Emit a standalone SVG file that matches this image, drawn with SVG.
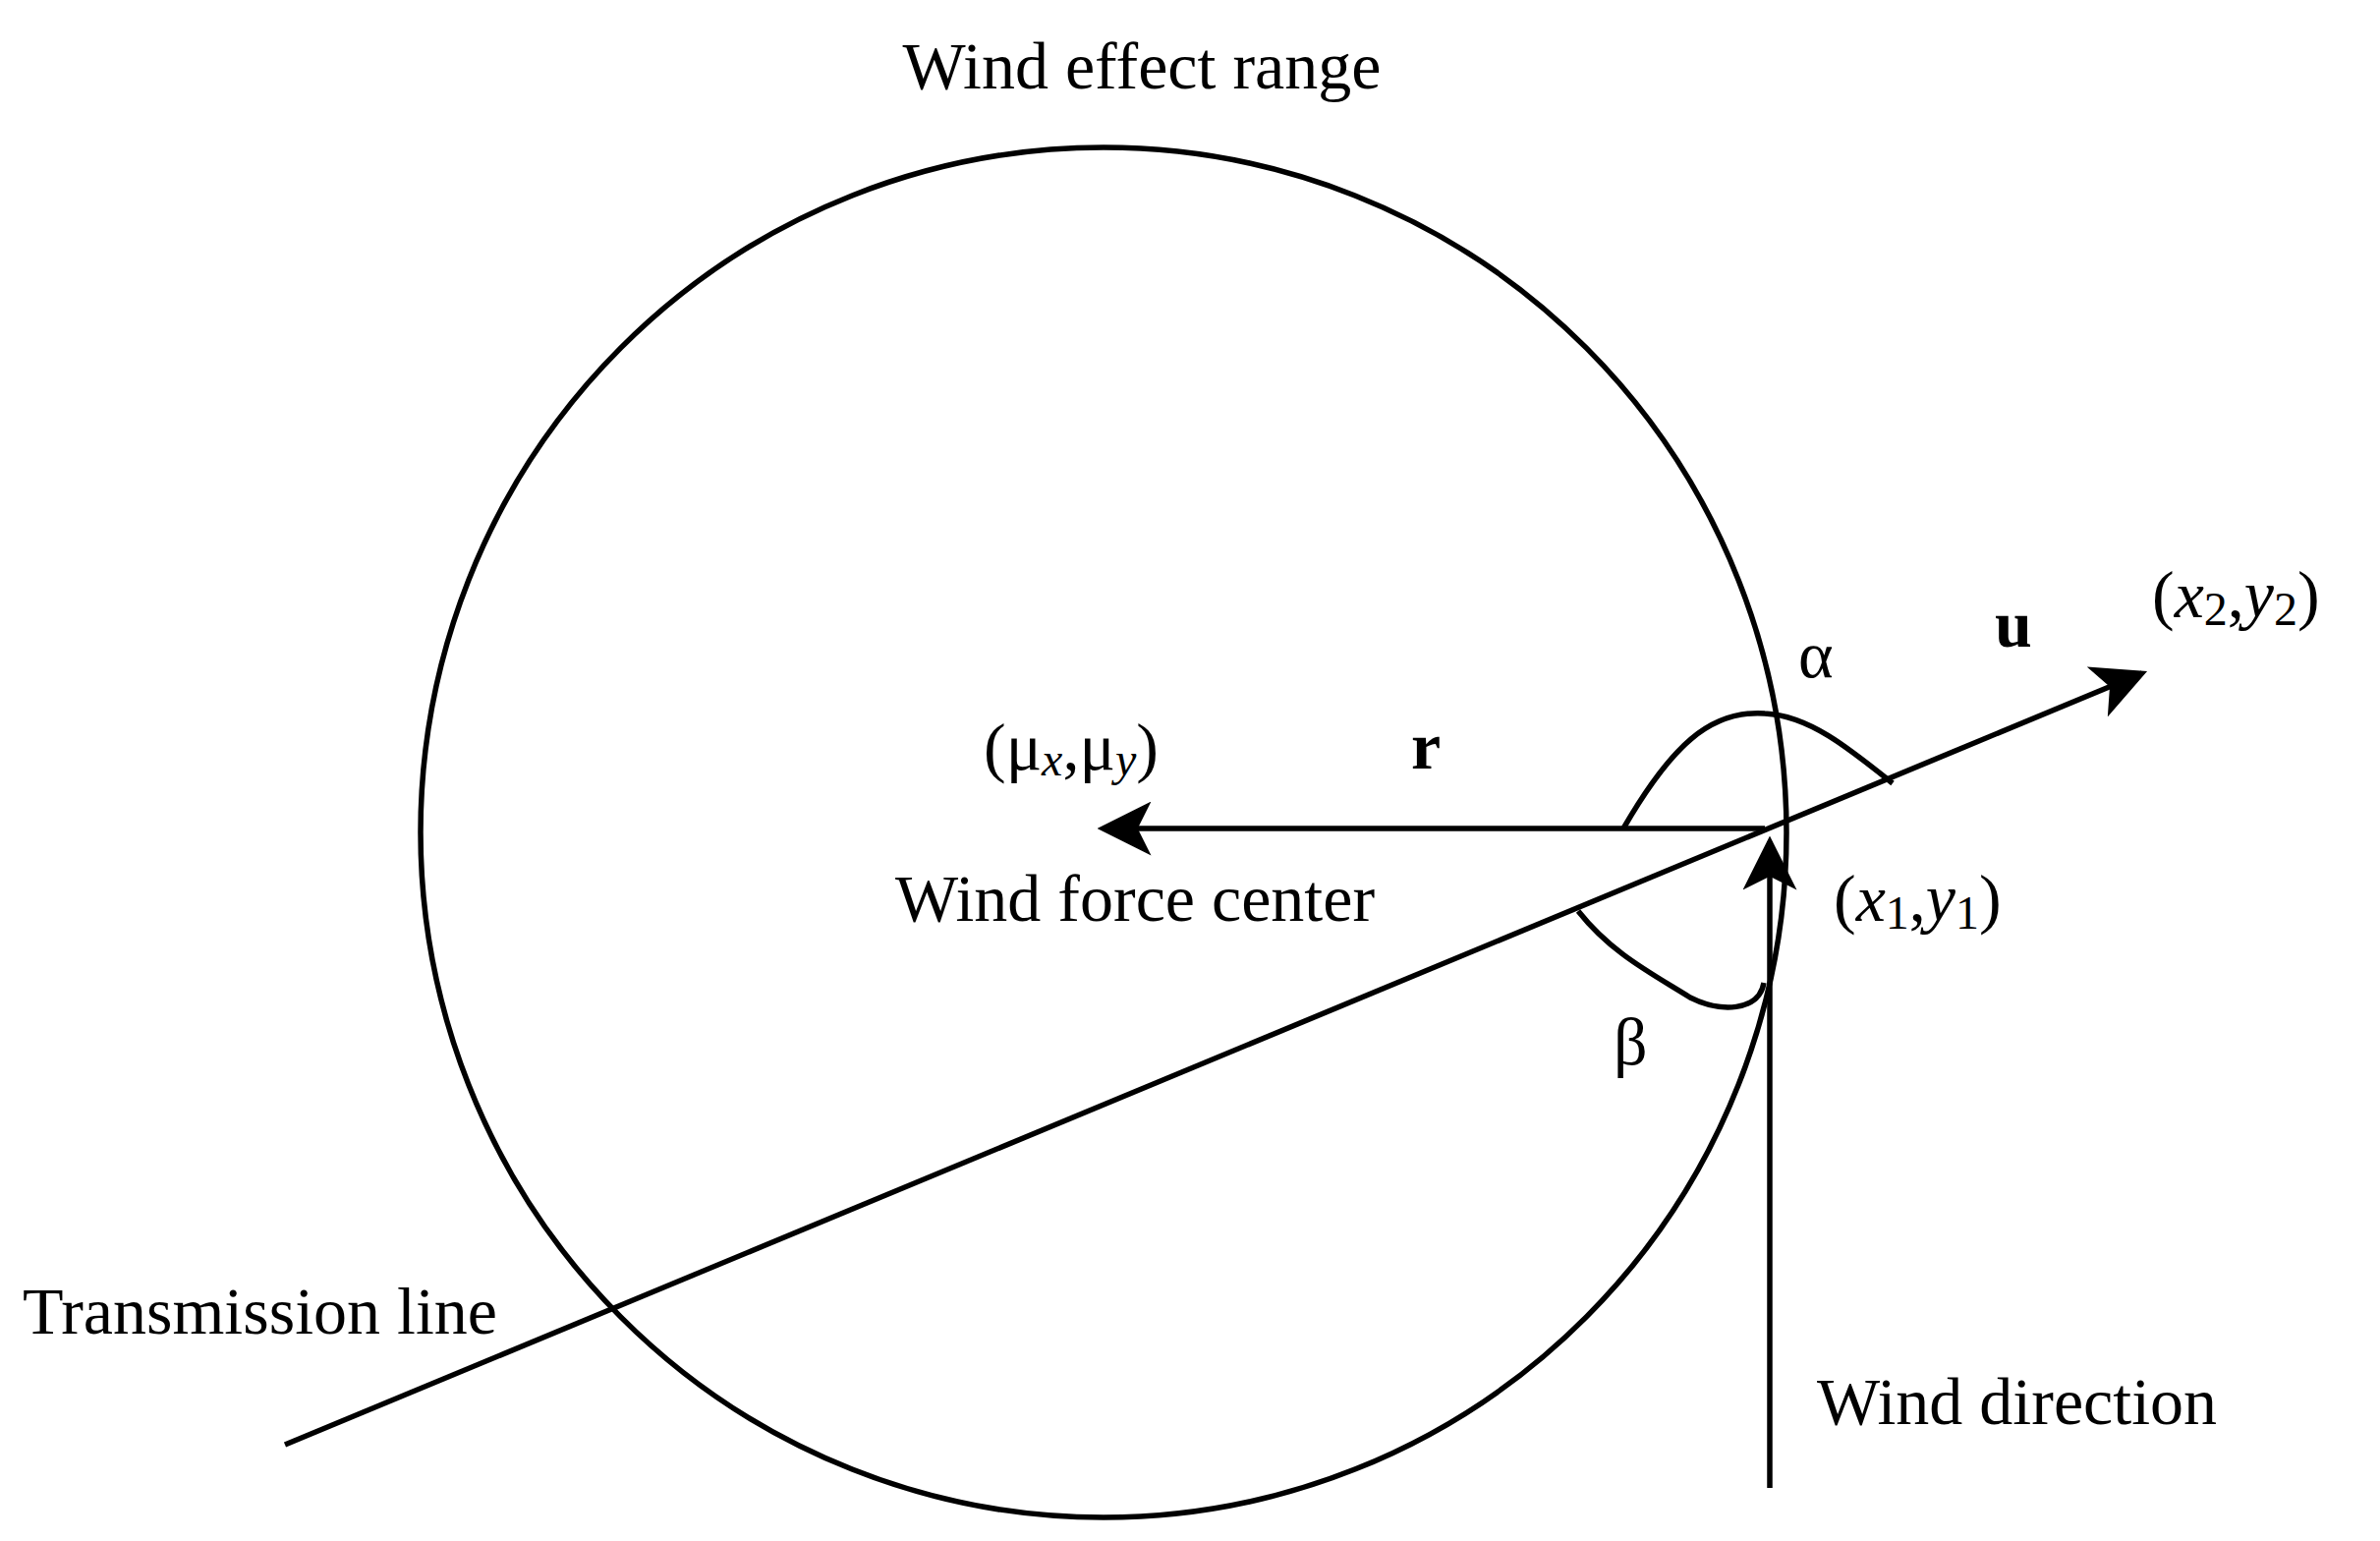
<svg xmlns="http://www.w3.org/2000/svg" width="2422" height="1568" viewBox="0 0 2422 1568">
<style>
.s{fill:none;stroke:#000;stroke-width:5.5}
text{font-family:"Liberation Serif","Times New Roman",serif;font-size:68px;fill:#000}
.b{font-weight:bold}
.i{font-style:italic}
</style>
<defs>
<marker id="ah2" viewBox="0 0 20 20" refX="18" refY="10" markerWidth="10" markerHeight="10" orient="auto">
<path d="M0,0 L20,10 L0,20 L5,10 Z" fill="#000"/>
</marker>
</defs>
<rect width="2422" height="1568" fill="#fff"/>
<g id="range"><ellipse class="s" cx="1123" cy="847" rx="695" ry="697"/></g>
<g id="connectors">
<line class="s" x1="290" y1="1470" x2="2180" y2="685" marker-end="url(#ah2)"/>
<line class="s" x1="1796" y1="843" x2="1122" y2="843" marker-end="url(#ah2)"/>
<line class="s" x1="1801" y1="1514" x2="1801" y2="856" marker-end="url(#ah2)"/>
<path class="s" d="M1652,843 C1700,760 1740,722 1796,726 C1840,728 1880,760 1926,797"/>
<path class="s" d="M1606,927 C1640,970 1680,990 1720,1015 C1750,1030 1790,1030 1795,1000"/>
</g>
<g id="labels">
<text x="1162" y="90" text-anchor="middle">Wind effect range</text>
<text x="1001" y="783">(μ<tspan class="i" font-size="48" dy="6">x</tspan><tspan dy="-6">,μ</tspan><tspan class="i" font-size="48" dy="6">y</tspan><tspan dy="-6">)</tspan></text>
<text x="1436" y="782" class="b">r</text>
<text x="911" y="937">Wind force center</text>
<text x="1830" y="689">α</text>
<text x="2030" y="658" class="b">u</text>
<text x="2190" y="628">(<tspan class="i">x</tspan><tspan font-size="48" dy="8">2</tspan><tspan dy="-8">,</tspan><tspan class="i">y</tspan><tspan font-size="48" dy="8">2</tspan><tspan dy="-8">)</tspan></text>
<text x="1866" y="937">(<tspan class="i">x</tspan><tspan font-size="48" dy="8">1</tspan><tspan dy="-8">,</tspan><tspan class="i">y</tspan><tspan font-size="48" dy="8">1</tspan><tspan dy="-8">)</tspan></text>
<text x="1642" y="1083">β</text>
<text x="23" y="1357">Transmission line</text>
<text x="1849" y="1449">Wind direction</text>
</g>
</svg>
